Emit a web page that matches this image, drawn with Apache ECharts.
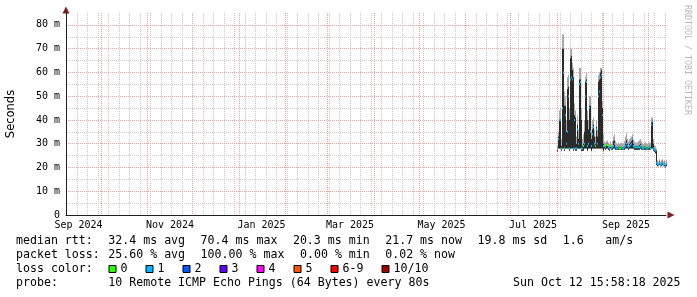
<!DOCTYPE html>
<html>
<head>
<meta charset="utf-8">
<script src="https://cdn.jsdelivr.net/npm/echarts@6/dist/echarts.min.js"></script>
<style>
html,body{margin:0;padding:0;background:#ffffff;}
#chart{width:697px;height:297px;}
</style>
</head>
<body>
<div id="chart"></div>
<script>
// ---------------- data ----------------
// time window of the graph (last 400 days)
const windowStart = Date.UTC(2024, 8, 7, 15, 58, 18);
const windowEnd   = Date.UTC(2025, 9, 12, 15, 58, 18);
// first consolidated sample and sample step (16 h per column)
const firstSample = Date.UTC(2025, 6, 31, 23, 58, 18);
const sampleStepHours = 16;

// median rtt (ms) per sample
const medianRtt = [
 27,32,40,40,28,45,60,28,42,30,35,50,28,57,58,57,28,40,28,28,
 36,30,55,56,28,28,29,30,50,56,29,30,45,35,29,34,37,30,29,36,
 30,50,52,58,59,42,29,
 29,28.5,29.5,29.5,28.5,28,29,28,28.5,29,30,28.5,28,28,28.5,28,28,28.5,28,28,
 28.5,29,30,29,28.5,29,29.5,30,32,29,28.5,28.5,28.5,28.5,28.5,28.5,29,28.5,28,28,
 28.5,28.5,28,28,28.5,28.5,28,38,39.5,28,27.5,27,
 22,21.5,21,22,21,21.5,22,21,21.5,20.5,21.5
];
// loss bucket index per sample (0:0, 1:1, 2:2, 3:3, 4:4, 5:5, 6:6-9, 7:10/10)
const lossBucket = [
 6,1,1,1,1,1,1,0,1,1,1,1,1,1,1,1,1,1,1,1,
 1,1,1,1,1,1,0,1,1,1,1,1,1,1,1,1,1,1,0,1,
 1,1,1,1,1,1,1,
 0,1,0,0,1,1,0,1,1,1,1,1,1,1,1,0,0,0,1,1,
 1,1,1,1,1,1,1,1,1,1,1,1,1,1,1,0,1,1,1,1,
 1,0,1,1,0,1,1,1,1,1,1,1,
 1,1,1,1,1,1,1,1,1,1,1
];
// smoke: lowest ping, top of dark core band, highest ping (ms)
const smokeLow = [
 27,28,28,28,27,28,28,27,28,28,28,28,27,28,28,28,27,28,27,27,
 28,28,28,28,27,27,27,28,28,28,27,28,28,28,27,28,28,28,28,28,
 28,28,28,28,28,28,27,
 28,27.5,28,28,27.5,27,28,27.5,27.5,28,28,27.5,27.5,27.5,27.5,27.5,27.5,27.5,27.5,27.5,
 27.5,28,28,28,27.5,28,28,28,28,28,27.5,27.5,27.5,27.5,27.5,27.5,28,27.5,27.5,27.5,
 27.5,27.5,27.5,27.5,27.5,27.5,27.5,28,28,27,26.5,26,
 21,20.5,20.5,21,20.5,20.5,21,20.5,20.5,20,20.5
];
const smokeCore = [
 27,33,40,40,29,70,70,46,46,35,53,54,40,66,67,61,58,42,41,30,
 38,32,57,57,40,29,30,35,56,57,40,36,46,46,32,36,38,33,30,37,
 33,56,57,60,61,45,30,
 29.5,29,30,30,29,28.5,29.5,28.5,29,31,31.5,29,28.5,28.5,29,28.5,28.5,29,28.5,28.5,
 29,30,31.5,30,29,30,30.5,31,32.5,30,29,29,29,29,29,29.5,30,29,28.5,28.5,
 29,29,28.5,28.5,29,29,28.5,39,40,30,28,27.5,
 27,22,21.5,22.5,21.5,22,22.5,21.5,22,21,22
];
const smokeHigh = [
 29,35,44,45,32,76,76,52,50,40,58,59,45,70,70,64,62,47,44,33,
 42,36,62,62,45,32,34,40,58,60,44,40,50,50,35,40,41,36,33,40,
 36,59,60,62,62,48,34,
 31,30.5,31,31.5,30.5,30,31,30,31,33,34,31,30,30,30.5,30,30,30.5,30,30,
 31,33,34.5,32,31,32,32.5,33,34,32,31,30.5,30.5,30.5,31,31.5,32,31,30,30,
 30.5,30.5,30,30,30.5,30.5,30,41,41,32,29.5,29,
 28,23,22.5,23.5,22.5,23,23.5,22.5,23,22,23
];

// axis ticks / labels
const yMajorTicks = [0, 10, 20, 30, 40, 50, 60, 70, 80];
const yMinorTicks = [5, 15, 25, 35, 45, 55, 65, 75];
const xLabelMonths = [[2024, 8], [2024, 10], [2025, 0], [2025, 2], [2025, 4], [2025, 6], [2025, 8]];
const monthNames = ['Jan','Feb','Mar','Apr','May','Jun','Jul','Aug','Sep','Oct','Nov','Dec'];

// legend (text, character column)
const lossColors = ['#26ff00', '#00b8ff', '#0059ff', '#5e00ff', '#ff00ff', '#ff5500', '#ff0000', '#a10000'];
const lossLabels = ['0', '1', '2', '3', '4', '5', '6-9', '10/10'];
const legendRow1 = [['median rtt:', 0], ['32.4 ms avg', 13], ['70.4 ms max', 26], ['20.3 ms min', 39], ['21.7 ms now', 52], ['19.8 ms sd', 65], ['1.6', 77], ['am/s', 83]];
const legendRow2 = [['packet loss:', 0], ['25.60 % avg', 13], ['100.00 % max', 26], ['0.00 % min', 40], ['0.02 % now', 52]];
const legendRow3 = [['loss color:', 0]];
const legendRow4 = [['probe:', 0], ['10 Remote ICMP Echo Pings (64 Bytes) every 80s', 13], ['Sun Oct 12 15:58:18 2025', 70]];

// ---------------- build ----------------
const DAY = 86400000;
const HOUR = 3600000;
const samples = medianRtt.map(function (m, i) {
  return [firstSample + i * sampleStepHours * HOUR, smokeLow[i], smokeCore[i], smokeHigh[i], m, lossBucket[i]];
});

// month grid (1st of each month) and weekly grid (Sundays)
const monthTicks = [];
for (let y = 2024, mo = 8; ; ) {
  const t = Date.UTC(y, mo, 1);
  if (t > windowEnd) break;
  if (t >= windowStart) monthTicks.push(t);
  mo++; if (mo > 11) { mo = 0; y++; }
}
const weekTicks = [];
for (let t = Date.UTC(2024, 8, 8); t <= windowEnd; t += 7 * DAY) {
  if (t >= windowStart) weekTicks.push(t);
}
const xLabelTimes = xLabelMonths.map(function (a) { return Date.UTC(a[0], a[1], 1) + 15 * DAY; });
const xLabelTexts = xLabelMonths.map(function (a) { return monthNames[a[1]] + ' ' + a[0]; });

const MONO = '"DejaVu Sans Mono", monospace';
const gridMinorColor = '#cbcbcb';
const gridMajorColor = '#eea0a0';
const axisColor = '#1f1f1f';
const arrowColor = '#7f1f1f';

function renderSmoke(params, api) {
  const t = api.value(0);
  const pLo = api.coord([t, api.value(1)]);
  const pCore = api.coord([t, api.value(2)]);
  const pHi = api.coord([t, api.value(3)]);
  const x = Math.round(pLo[0]);
  return {
    type: 'group',
    children: [
      { type: 'rect', shape: { x: x, y: pHi[1], width: 1, height: pLo[1] - pHi[1] }, style: { fill: '#a8a8a8' } },
      { type: 'rect', shape: { x: x, y: pCore[1], width: 1, height: pLo[1] - pCore[1] }, style: { fill: '#2a2a2a' } }
    ]
  };
}
function renderMedian(params, api) {
  const t = api.value(0);
  const p = api.coord([t, api.value(4)]);
  const x = Math.round(p[0]);
  return { type: 'rect', shape: { x: x, y: p[1] - 1, width: 1, height: 2 }, style: { fill: lossColors[api.value(5)] } };
}

// legend graphics
const CHAR_W = 7.1;
const LEGEND_FONT = '11.6px ' + MONO;
const els = [];
function txt(x, y, s) {
  els.push({ type: 'text', x: x, y: y, style: { text: s, font: LEGEND_FONT, fill: '#000', align: 'left', verticalAlign: 'middle' } });
}
[[legendRow1, 241], [legendRow2, 255], [legendRow3, 269], [legendRow4, 283]].forEach(function (r) {
  r[0].forEach(function (it) { txt(16 + it[1] * CHAR_W, r[1], it[0]); });
});
lossLabels.forEach(function (s, i) {
  const bx = 108.5 + 37 * i + (i === 7 ? 14 : 0);
  els.push({ type: 'rect', shape: { x: bx + 0.5, y: 265.5, width: 7, height: 7 }, style: { fill: lossColors[i], stroke: '#000', lineWidth: 1 } });
  txt(bx + 12, 269, s);
});
els.push({ type: 'text', x: 11, y: 114, rotation: Math.PI / 2,
  style: { text: 'Seconds', font: '11.5px "DejaVu Sans", sans-serif', fill: '#000', align: 'center', verticalAlign: 'middle' } });
els.push({ type: 'text', x: 687, y: 60, rotation: -Math.PI / 2,
  style: { text: 'RRDTOOL / TOBI OETIKER', font: '8.3px ' + MONO, fill: '#b8b8b8', align: 'center', verticalAlign: 'middle' } });

const chart = echarts.init(document.getElementById('chart'), null, { renderer: 'canvas' });
chart.setOption({
  animation: false,
  backgroundColor: '#ffffff',
  grid: { left: 66, top: 13, width: 600, height: 202, containLabel: false },
  xAxis: [
    { // major month grid + labels
      type: 'value', min: windowStart, max: windowEnd, z: 1, position: 'bottom',
      axisLine: { show: true, lineStyle: { color: axisColor, width: 1 } },
      axisTick: { show: false, customValues: monthTicks },
      splitLine: { show: true, lineStyle: { color: gridMajorColor, width: 1, type: [1, 1] } },
      axisLabel: {
        show: true, customValues: xLabelTimes, margin: 5,
        fontFamily: MONO, fontSize: 10, color: '#000',
        formatter: function (v) {
          const i = xLabelTimes.indexOf(v);
          return i >= 0 ? xLabelTexts[i] : '';
        }
      }
    },
    { // minor week grid + arrow
      type: 'value', min: windowStart, max: windowEnd, z: 0, position: 'bottom',
      axisLine: { show: true, onZero: false, symbol: ['none', 'triangle'], symbolSize: [7, 7], symbolOffset: [0, 5],
        lineStyle: { color: arrowColor, opacity: 0 } },
      axisTick: { show: false, customValues: weekTicks },
      splitLine: { show: true, lineStyle: { color: gridMinorColor, width: 1, type: [1, 1] } },
      axisLabel: { show: false }
    }
  ],
  yAxis: [
    {
      type: 'value', min: 0, max: 85, z: 1, position: 'left',
      axisLine: { show: true, lineStyle: { color: axisColor, width: 1 } },
      axisTick: { show: false, customValues: yMajorTicks },
      splitLine: { show: true, lineStyle: { color: gridMajorColor, width: 1, type: [1, 1] } },
      axisLabel: {
        show: true, customValues: yMajorTicks, margin: 6,
        fontFamily: MONO, fontSize: 10, color: '#000',
        formatter: function (v) { return v === 0 ? '0' : v + ' m'; }
      }
    },
    {
      type: 'value', min: 0, max: 85, z: 0, position: 'left',
      axisLine: { show: true, onZero: false, symbol: ['none', 'triangle'], symbolSize: [7, 7], symbolOffset: [0, 3],
        lineStyle: { color: arrowColor, opacity: 0 } },
      axisTick: { show: false, customValues: yMinorTicks },
      splitLine: { show: true, lineStyle: { color: gridMinorColor, width: 1, type: [1, 1] } },
      axisLabel: { show: false }
    }
  ],
  series: [
    { type: 'custom', name: 'smoke', xAxisIndex: 0, yAxisIndex: 0, z: 3,
      encode: { x: 0, y: [1, 3] }, renderItem: renderSmoke, data: samples, silent: true },
    { type: 'custom', name: 'median', xAxisIndex: 0, yAxisIndex: 0, z: 4,
      encode: { x: 0, y: 4 }, renderItem: renderMedian, data: samples, silent: true }
  ],
  graphic: { elements: els }
});
</script>
</body>
</html>
